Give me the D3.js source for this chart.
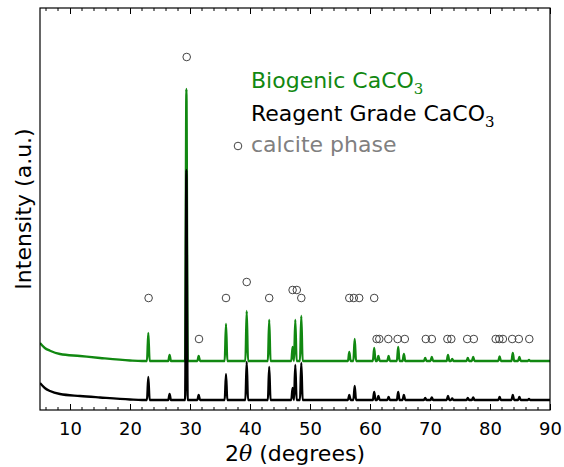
<!DOCTYPE html>
<html>
<head>
<meta charset="utf-8">
<script src="https://cdn.jsdelivr.net/npm/d3@7"></script>
<style>
  body { margin: 0; background: #fff; }
  svg { display: block; font-family: "DejaVu Sans", sans-serif; }
</style>
</head>
<body>
<div id="chart"></div>
<script>
// peak positions (2theta) and heights
var peakPos = [23.05, 26.6, 29.4, 31.45, 36.0, 39.45, 43.2, 47.1, 47.55, 48.55, 56.55, 57.45, 60.7, 61.4, 63.1, 64.7, 65.65, 69.2, 70.3, 73.0, 73.7, 76.3, 77.2, 81.6, 83.8, 84.9, 86.5];
var bioHeights = [28, 6, 272, 5, 37, 50, 41, 14, 41, 45, 9, 22, 13, 5, 5, 14, 7, 3, 4, 6, 2, 3, 4, 4.5, 8, 4, 1];
var reagentHeights = [23, 6, 230, 5, 26, 38, 33, 12, 35, 37, 5, 14, 8, 4, 3, 8, 5, 2, 2.5, 4, 1.5, 2, 2.5, 3, 5, 3, 1];

// low angle background [2theta, intensity]
var bioBackground = [[5, 18], [5.8, 13], [6.67, 10.3], [8.33, 7], [11.67, 5], [15, 3], [20, 0.5], [22, 0]];
var reagentBackground = [[5, 17], [5.8, 12], [6.67, 9], [8.33, 6], [11.67, 4], [15, 2.5], [20, 0.5], [22, 0]];
var bioOffset = 39;

// calcite reference markers [2theta, level]
var calcitePos = [29.45, 39.45, 47.1, 47.8, 23.1, 36.0, 43.2, 48.55, 56.55, 57.3, 58.2, 60.7,
    31.5, 61.1, 61.55, 63.05, 64.6, 65.8, 69.3, 70.3, 72.9, 73.55, 76.2, 77.3, 80.95, 81.55, 82.15, 83.7, 84.8, 86.55];
var calciteLevel = [343, 118, 110, 110, 102, 102, 102, 102, 102, 102, 102, 102,
    61, 61, 61, 61, 61, 61, 61, 61, 61, 61, 61, 61, 61, 61, 61, 61, 61, 61];

var xTicks = [10, 20, 30, 40, 50, 60, 70, 80, 90];

var width = 564, height = 467;
var margin = ({top: 8, right: 14, bottom: 57, left: 40});

var x = d3.scaleLinear().domain([5, 90]).range([margin.left, width - margin.right]);
var y = d3.scaleLinear().domain([-10, 392]).range([height - margin.bottom, margin.top]);

var svg = d3.select("#chart").append("svg")
    .attr("width", width)
    .attr("height", height);

svg.append("clipPath").attr("id", "clip")
  .append("rect")
    .attr("x", margin.left).attr("y", margin.top)
    .attr("width", x.range()[1] - x.range()[0])
    .attr("height", y.range()[0] - y.range()[1]);

function tracePoints(bg, heights) {
    var pts = bg.slice();
    peakPos.forEach((p, i) => {
        pts.push([p - 0.22, 0], [p, heights[i]], [p + 0.22, 0]);
    });
    pts.push([90, 0]);
    return pts;
}

var line = offset => d3.line()
    .curve(d3.curveMonotoneX)
    .x(d => x(d[0]))
    .y(d => y(d[1] + offset));

var plot = svg.append("g").attr("clip-path", "url(#clip)");

plot.append("path")
    .datum(tracePoints(bioBackground, bioHeights))
    .attr("fill", "none")
    .attr("stroke", "#118811")
    .attr("stroke-width", 2.3)
    .attr("stroke-linejoin", "round")
    .attr("d", line(bioOffset));

plot.append("path")
    .datum(tracePoints(reagentBackground, reagentHeights))
    .attr("fill", "none")
    .attr("stroke", "#000")
    .attr("stroke-width", 2.3)
    .attr("stroke-linejoin", "round")
    .attr("d", line(0));

svg.append("g")
    .selectAll("circle")
    .data(calcitePos)
    .join("circle")
    .attr("cx", d => x(d))
    .attr("cy", (d, i) => y(calciteLevel[i]))
    .attr("r", 3.8)
    .attr("fill", "none")
    .attr("stroke", "#444")
    .attr("stroke-width", 1);

// axes: ticks inward on bottom and top
var minor = d3.range(6, 90, 2).filter(v => v % 10 !== 0);

var xAxis = g => g
    .attr("transform", `translate(0,${y.range()[0]})`)
    .call(d3.axisBottom(x).tickValues(xTicks).tickSizeInner(-6).tickSizeOuter(0).tickPadding(12).tickFormat(d3.format("d")))
    .call(g => g.select(".domain").remove())
    .call(g => g.selectAll(".tick text").attr("font-size", 18).attr("font-family", "DejaVu Sans").attr("fill", "#000"));

var xAxisTop = g => g
    .attr("transform", `translate(0,${y.range()[1]})`)
    .call(d3.axisTop(x).tickValues(xTicks).tickSizeInner(-6).tickSizeOuter(0).tickFormat(""))
    .call(g => g.select(".domain").remove());

svg.append("g").call(xAxis);
svg.append("g").call(xAxisTop);

svg.append("g")
    .selectAll("line")
    .data(minor)
    .join("line")
    .attr("x1", d => x(d)).attr("x2", d => x(d))
    .attr("y1", y.range()[0]).attr("y2", y.range()[0] - 3)
    .attr("stroke", "#000");

svg.append("g")
    .selectAll("line")
    .data(minor)
    .join("line")
    .attr("x1", d => x(d)).attr("x2", d => x(d))
    .attr("y1", y.range()[1]).attr("y2", y.range()[1] + 3)
    .attr("stroke", "#000");

svg.append("rect")
    .attr("x", margin.left).attr("y", margin.top)
    .attr("width", x.range()[1] - x.range()[0])
    .attr("height", y.range()[0] - y.range()[1])
    .attr("fill", "none")
    .attr("stroke", "#000")
    .attr("stroke-width", 1.2);

// axis labels
var xl = svg.append("text")
    .attr("x", (x.range()[0] + x.range()[1]) / 2)
    .attr("y", 461)
    .attr("text-anchor", "middle")
    .attr("font-size", 22);
xl.append("tspan").text("2");
xl.append("tspan").attr("font-family", "DejaVu Serif").attr("font-style", "italic").text("θ");
xl.append("tspan").text(" (degrees)");

svg.append("text")
    .attr("transform", `translate(31,${(y.range()[0] + y.range()[1]) / 2}) rotate(-90)`)
    .attr("text-anchor", "middle")
    .attr("font-size", 22)
    .text("Intensity (a.u.)");

// legend
var legend = svg.append("g").attr("font-size", 22);

function caco3(t, color, yy) {
    var tx = legend.append("text").attr("x", 251).attr("y", yy).attr("fill", color);
    tx.append("tspan").text(t);
    tx.append("tspan").attr("font-family", "DejaVu Serif").attr("font-size", 15).attr("dy", 6).text("3");
}
caco3("Biogenic CaCO", "#118811", 88);
caco3("Reagent Grade CaCO", "#000", 121);

legend.append("circle")
    .attr("cx", 238).attr("cy", 146).attr("r", 3.8)
    .attr("fill", "none").attr("stroke", "#444").attr("stroke-width", 1);
legend.append("text")
    .attr("x", 251).attr("y", 152)
    .attr("fill", "#808080")
    .text("calcite phase");
</script>
</body>
</html>
